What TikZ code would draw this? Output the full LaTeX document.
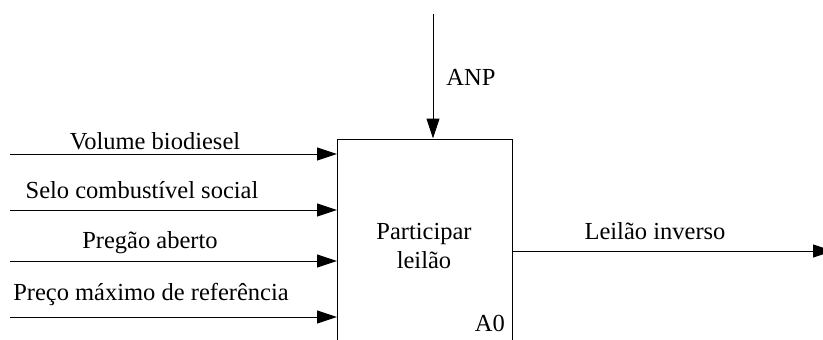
\documentclass[tikz,border=0pt]{standalone}
\usepackage{fontspec}
\setmainfont{Liberation Serif}
\usetikzlibrary{arrows.meta}
\begin{document}
\begin{tikzpicture}[x=1pt,y=-1pt,
  flow/.style={draw=black, line width=1pt, -{Triangle[length=20pt,width=13pt]}},
  lbl/.style={font=\fontsize{24.5}{29}\selectfont, inner sep=0pt, anchor=base},
  activity/.style={draw=black, line width=1pt, minimum width=175pt, minimum height=215pt,
    anchor=north west, inner sep=0pt}]
\useasboundingbox (0,0) rectangle (823,340);
\clip (0,0) rectangle (823,340);

% activity box (A0)
\node[activity] (act) at (337,138.5) {};
\node[lbl, anchor=center, align=center] (name) at (424,246) {Participar\\leilão};
\node[lbl, anchor=base east] (code) at (505,331) {A0};

% free ends of the connectors
\coordinate (ctl) at (433,14);
\coordinate (in1) at (10,154);
\coordinate (in2) at (10,210);
\coordinate (in3) at (10,261);
\coordinate (in4) at (10,317);
\coordinate (out) at (833,251);

% control
\draw[flow] (ctl) -- (ctl |- act.north);
\node[lbl] (ctllbl) at (471,85) {ANP};

% inputs
\draw[flow] (in1) -- (act.west |- in1);
\draw[flow] (in2) -- (act.west |- in2);
\draw[flow] (in3) -- (act.west |- in3);
\draw[flow] (in4) -- (act.west |- in4);
\node[lbl] (l1) at (155,149) {Volume biodiesel};
\node[lbl] (l2) at (142,198) {Selo combustível social};
\node[lbl] (l3) at (150,248) {Pregão aberto};
\node[lbl] (l4) at (151,300) {Preço máximo de referência};

% output
\draw[flow] (act.east |- out) -- (out);
\node[lbl] (l5) at (655,239) {Leilão inverso};
\end{tikzpicture}
\end{document}
